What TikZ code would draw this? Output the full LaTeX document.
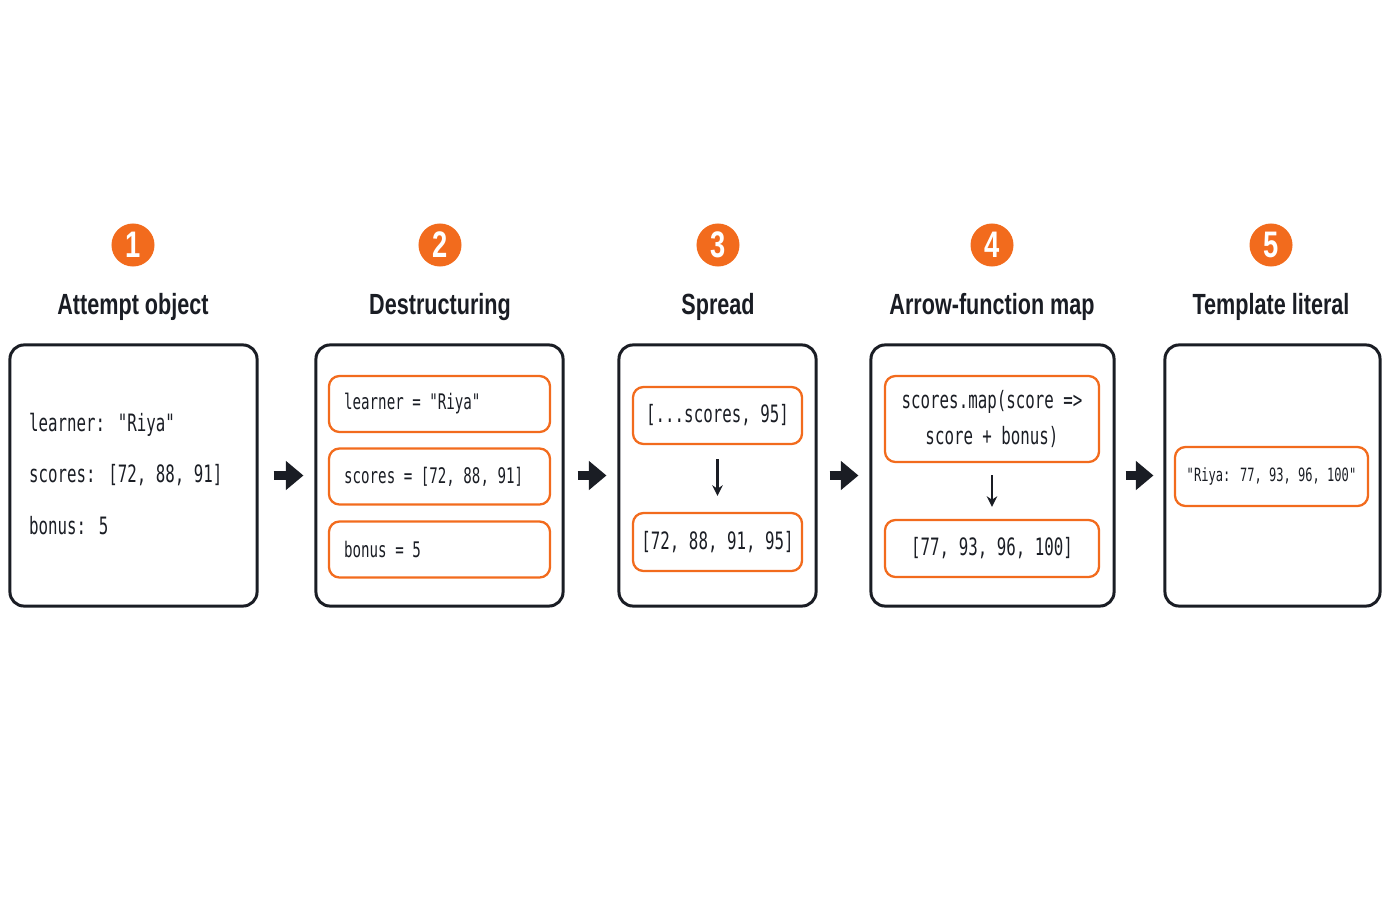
\documentclass[tikz,border=0pt]{standalone}
\usepackage{fontspec}
\setmainfont{Liberation Sans}
\newfontfamily\codefont{DejaVu Sans Mono}[FakeStretch=0.66]
\newfontfamily\titlefont{Liberation Sans}[FakeStretch=0.74]
\usetikzlibrary{arrows.meta}
\definecolor{accent}{HTML}{F26B1D}
\definecolor{ink}{HTML}{1A1D24}
\begin{document}
\begin{tikzpicture}[x=0.01cm,y=-0.01cm]
	\tikzstyle{panel} = [draw=ink,line width=0.85pt,rounded corners=4pt,inner sep=0pt]
	\tikzstyle{cell} = [draw=accent,line width=0.65pt,rounded corners=3pt,inner sep=0pt,font=\codefont\fontsize{6.8}{10}\selectfont,text=ink]
	\tikzstyle{badge} = [circle,fill=accent,text=white,minimum size=43*0.2845pt,inner sep=0pt,font=\titlefont\bfseries\fontsize{10.5}{10}\selectfont]
	\tikzstyle{heading} = [font=\titlefont\bfseries\fontsize{8.3}{10}\selectfont,text=ink]
	\tikzstyle{flow} = [-{Triangle[length=5pt,width=8pt]},line width=2.4pt,ink]
	\tikzstyle{down} = [-{Stealth[length=3pt,width=3pt]},line width=0.7pt,ink]
	\useasboundingbox (0,0) rectangle (1400,900);

	% badges and headings
	\node[badge] (n 1) at (133,245) {1};
	\node[badge] (n 2) at (440,245) {2};
	\node[badge] (n 3) at (718,245) {3};
	\node[badge] (n 4) at (992,245) {4};
	\node[badge] (n 5) at (1271,245) {5};
	\node[heading] (h 1) at (133,307) {Attempt object};
	\node[heading] (h 2) at (440,307) {Destructuring};
	\node[heading] (h 3) at (718,307) {Spread};
	\node[heading] (h 4) at (992,307) {Arrow-function map};
	\node[heading] (h 5) at (1271,307) {Template literal};

	% panels
	\node[panel,minimum width=247*0.2845pt,minimum height=261*0.2845pt] (p 1) at (133.5,475.5) {};
	\node[panel,minimum width=247*0.2845pt,minimum height=261*0.2845pt] (p 2) at (439.5,475.5) {};
	\node[panel,minimum width=197*0.2845pt,minimum height=261*0.2845pt] (p 3) at (717.5,475.5) {};
	\node[panel,minimum width=243*0.2845pt,minimum height=261*0.2845pt] (p 4) at (992.5,475.5) {};
	\node[panel,minimum width=215*0.2845pt,minimum height=261*0.2845pt] (p 5) at (1272.5,475.5) {};

	% step 1
	\node[cell,draw=none,anchor=west] (o 1) at (28,425) {learner: "Riya"};
	\node[cell,draw=none,anchor=west] (o 2) at (28,475) {scores: [72, 88, 91]};
	\node[cell,draw=none,anchor=west] (o 3) at (28,526) {bonus: 5};

	% step 2
	\node[cell,minimum width=221*0.2845pt,minimum height=56*0.2845pt] (d 1) at (439.5,404) {};
	\node[cell,minimum width=221*0.2845pt,minimum height=56*0.2845pt] (d 2) at (439.5,476.5) {};
	\node[cell,minimum width=221*0.2845pt,minimum height=56*0.2845pt] (d 3) at (439.5,549.5) {};
	\node[cell,draw=none,anchor=west,font=\codefont\fontsize{6.1}{10}\selectfont] at (343,404) {learner = "Riya"};
	\node[cell,draw=none,anchor=west,font=\codefont\fontsize{6.1}{10}\selectfont] at (343,476.5) {scores = [72, 88, 91]};
	\node[cell,draw=none,anchor=west,font=\codefont\fontsize{6.1}{10}\selectfont] at (343,549.5) {bonus = 5};

	% step 3
	\node[cell,minimum width=169*0.2845pt,minimum height=57*0.2845pt] (s 1) at (717.5,415.5) {[...scores, 95]};
	\node[cell,minimum width=169*0.2845pt,minimum height=58*0.2845pt] (s 2) at (717.5,542) {[72, 88, 91, 95]};
	\draw[down,shorten <=14*0.2845pt,shorten >=16*0.2845pt] (s 1) -- (s 2);

	% step 4
	\node[cell,minimum width=214*0.2845pt,minimum height=86*0.2845pt,align=center] (m 1) at (992,419) {scores.map(score =>\\score + bonus)};
	\node[cell,minimum width=214*0.2845pt,minimum height=57*0.2845pt] (m 2) at (992,548.5) {[77, 93, 96, 100]};
	\draw[down,shorten <=12*0.2845pt,shorten >=12*0.2845pt] (m 1) -- (m 2);

	% step 5
	\node[cell,minimum width=193*0.2845pt,minimum height=59*0.2845pt,font=\codefont\fontsize{5.2}{10}\selectfont] (t 1) at (1271.5,476.5) {"Riya: 77, 93, 96, 100"};

	% flow
	\draw[flow,shorten <=15*0.2845pt,shorten >=11*0.2845pt] (p 1) -- (p 2);
	\draw[flow,shorten <=13*0.2845pt,shorten >=11*0.2845pt] (p 2) -- (p 3);
	\draw[flow,shorten <=12*0.2845pt,shorten >=11*0.2845pt] (p 3) -- (p 4);
	\draw[flow,shorten <=10*0.2845pt,shorten >=10*0.2845pt] (p 4) -- (p 5);
\end{tikzpicture}
\end{document}
